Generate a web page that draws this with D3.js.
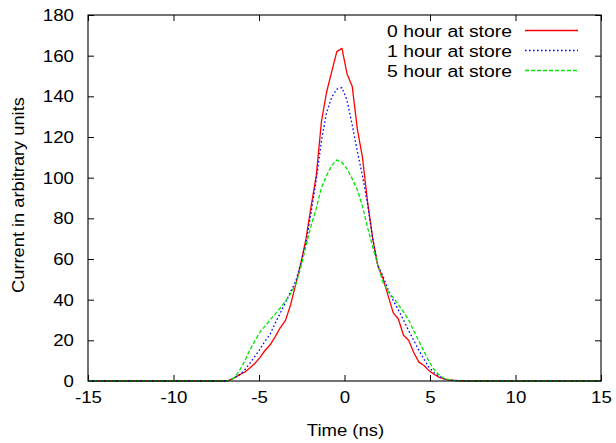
<!DOCTYPE html>
<html>
<head>
<meta charset="utf-8">
<script src="https://cdn.jsdelivr.net/npm/d3@7"></script>
<style>
  html, body { margin: 0; padding: 0; background: #fff; }
  svg { display: block; }
  text { font-family: "Liberation Sans", Arial, Helvetica, sans-serif; fill: #000; }
</style>
</head>
<body>
<svg id="chart" width="616" height="443"></svg>
<script>
// Pulse time axis (ns), shared by all three measurements
const times = [-15, -7.35, -7.05,
  -6.75, -6.45, -6.15, -5.85, -5.55, -5.25, -4.95, -4.65, -4.35, -4.05,
  -3.75, -3.45, -3.15, -2.85, -2.55, -2.25, -1.95, -1.65, -1.35, -1.05,
  -0.75, -0.45, -0.15, 0.15, 0.45, 0.75, 1.05, 1.35, 1.65, 1.95,
  2.25, 2.55, 2.85, 3.15, 3.45, 3.75, 4.05, 4.35, 4.65, 4.95,
  5.25, 5.55, 5.85, 6.15, 6.45, 6.75, 7.05, 15];

// Current (arbitrary units) after 0 h, 1 h and 5 h at store
const hour0 = [0, 0, 0,
  0.3, 1.5, 3, 4.3, 6.3, 8.6, 11.5, 15, 17.8, 21.8,
  26.3, 29.8, 37.5, 47.8, 58, 70, 86, 101, 127.5, 142,
  152, 162, 163.6, 151, 145, 124, 110, 88, 70, 56.5,
  50.5, 42, 33.5, 30.5, 22.5, 20, 14, 9.3, 7.6, 5,
  3.2, 1.8, 0.9, 0.5, 0.3, 0.1, 0, 0];
const hour1 = [0, 0, 0,
  0.3, 1.5, 3, 5.3, 8.5, 12, 15.5, 19.6, 23, 28.5,
  33.5, 38.6, 44, 49, 58, 68, 83, 99, 118, 132,
  139.5, 143.5, 144.3, 138, 126, 113, 101, 87, 70, 57,
  51.5, 45, 39.5, 35, 30, 24.8, 20, 15, 10.7, 6.6,
  4, 2.2, 1.1, 0.5, 0.2, 0.1, 0, 0];
const hour5 = [0, 0, 0,
  0.3, 1.5, 5, 9.5, 15, 19.5, 24, 27, 30, 33,
  36, 39.3, 43, 47.5, 56, 66.5, 76.5, 85, 95, 101,
  106, 108.7, 107.5, 104.3, 99.5, 94, 86, 75.5, 66, 57,
  48.5, 44, 41, 37.5, 34, 30, 24.6, 19.7, 14.5, 9.5,
  5.5, 2.8, 1.2, 0.5, 0.2, 0.1, 0, 0];

const seriesNames = ["0 hour at store", "1 hour at store", "5 hour at store"];
const xTicks = [-15, -10, -5, 0, 5, 10, 15];
const yTicks = [0, 20, 40, 60, 80, 100, 120, 140, 160, 180];

const series = [
  { name: seriesNames[0], values: hour0, color: "#ff0000", dash: null },
  { name: seriesNames[1], values: hour1, color: "#0000ff", dash: "1.6,2.4" },
  { name: seriesNames[2], values: hour5, color: "#00e600", dash: "4,2" }
];

const svg = d3.select("#chart");
const plot = { left: 88, right: 601, top: 15, bottom: 381 };

const x = d3.scaleLinear().domain([-15, 15]).range([plot.left, plot.right]);
const y = d3.scaleLinear().domain([0, 180]).range([plot.bottom, plot.top]);

const tickLen = 6;
const fontSize = "17px";
const plainNumber = d => String(d);

// Widen glyphs horizontally around their anchor point
function stretch(sel, k) {
  sel.each(function () {
    const t = d3.select(this);
    const tx = +t.attr("x") || 0, ty = +t.attr("y") || 0;
    const prev = t.attr("transform") || "";
    t.attr("x", 0).attr("y", 0)
      .attr("transform", `${prev} translate(${tx},${ty}) scale(${k},1)`);
  });
}

// Inward ticks on all four sides, mirrored like a boxed plot
const axes = svg.append("g");
axes.append("g")
  .attr("transform", `translate(0,${plot.bottom})`)
  .call(d3.axisBottom(x).tickValues(xTicks).tickSizeInner(-tickLen).tickSizeOuter(0).tickPadding(10).tickFormat(plainNumber));
axes.append("g")
  .attr("transform", `translate(0,${plot.top})`)
  .call(d3.axisTop(x).tickValues(xTicks).tickSizeInner(-tickLen).tickSizeOuter(0).tickFormat(""));
axes.append("g")
  .attr("transform", `translate(${plot.left},0)`)
  .call(d3.axisLeft(y).tickValues(yTicks).tickSizeInner(-tickLen).tickSizeOuter(0).tickPadding(14).tickFormat(plainNumber));
axes.append("g")
  .attr("transform", `translate(${plot.right},0)`)
  .call(d3.axisRight(y).tickValues(yTicks).tickSizeInner(-tickLen).tickSizeOuter(0).tickFormat(""));

axes.selectAll(".domain").remove();
axes.selectAll(".tick line").attr("stroke", "#000").attr("stroke-width", 1);
axes.selectAll(".tick text")
  .style("font-size", fontSize)
  .style("font-family", "'Liberation Sans', Arial, sans-serif")
  .call(stretch, 1.1);

// Curves
const line = d3.line()
  .x((d, i) => x(times[i]))
  .y(d => y(d));

const curves = svg.append("g");
series.forEach(s => {
  curves.append("path")
    .datum(s.values)
    .attr("fill", "none")
    .attr("stroke", s.color)
    .attr("stroke-width", 1.3)
    .attr("stroke-linejoin", "round")
    .attr("stroke-dasharray", s.dash)
    .attr("d", line);
});

// Plot frame
svg.append("rect")
  .attr("x", plot.left).attr("y", plot.top)
  .attr("width", plot.right - plot.left).attr("height", plot.bottom - plot.top)
  .attr("fill", "none").attr("stroke", "#000").attr("stroke-width", 1.1);

// Legend
const legend = svg.append("g");
series.forEach((s, i) => {
  const ly = 30.5 + i * 20;
  legend.append("text")
    .attr("x", 512).attr("y", ly + 6.5)
    .attr("text-anchor", "end")
    .style("font-size", fontSize)
    .text(s.name)
    .call(stretch, 1.14);
  legend.append("line")
    .attr("x1", 525).attr("x2", 578)
    .attr("y1", ly).attr("y2", ly)
    .attr("stroke", s.color)
    .attr("stroke-width", 1.3)
    .attr("stroke-dasharray", s.dash);
});

// Axis titles
svg.append("text")
  .attr("x", (plot.left + plot.right) / 2 + 1).attr("y", 436)
  .attr("text-anchor", "middle")
  .style("font-size", fontSize)
  .text("Time (ns)")
  .call(stretch, 1.09);
svg.append("text")
  .attr("transform", "translate(24,195) rotate(-90)")
  .attr("text-anchor", "middle")
  .style("font-size", fontSize)
  .text("Current in arbitrary units")
  .call(stretch, 1.075);
</script>
</body>
</html>
